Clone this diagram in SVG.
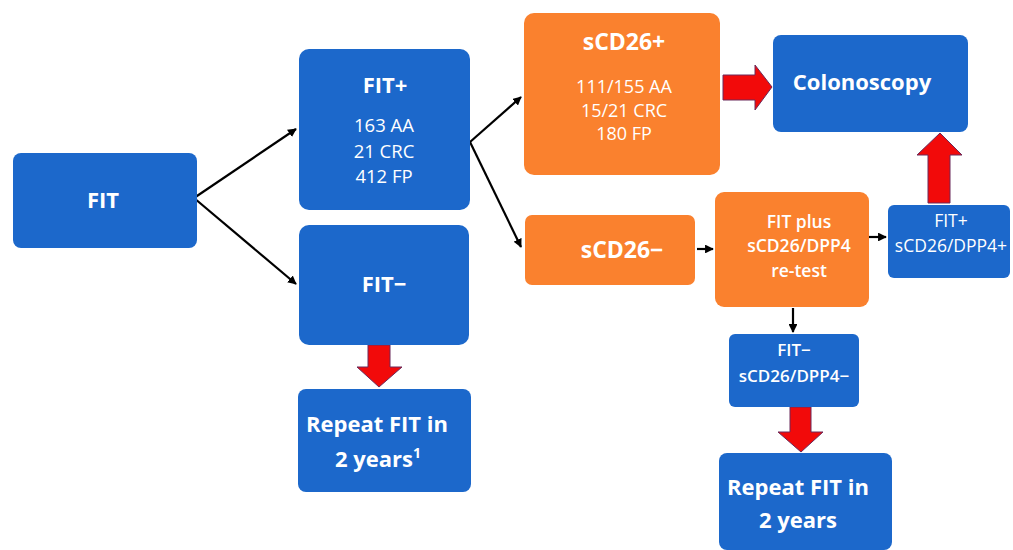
<svg xmlns="http://www.w3.org/2000/svg" width="1013" height="550" viewBox="0 0 1013 550">
<defs>
<style>
.blue{fill:#1c68cb}
.orange{fill:#fa812e}
.t{font-family:"Open Sans","Liberation Sans",sans-serif;fill:#fff;text-anchor:middle}
.b{font-weight:bold}
.s{font-weight:600}
.red{fill:#f20a0a;stroke:#6a2a5a;stroke-width:1}
.conn{stroke:#000;stroke-width:2.2;fill:none;marker-end:url(#ah)}
</style>
<marker id="ah" viewBox="0 0 10 10" refX="9" refY="5" markerWidth="4" markerHeight="4" orient="auto" markerUnits="strokeWidth">
<path d="M0,0 L10,5 L0,10 z" fill="#000"/>
</marker>
</defs>
<rect width="1013" height="550" fill="#fff"/>
<g id="connectors">
<path class="conn" d="M194,198 L296,129"/>
<path class="conn" d="M194,198 L296,284"/>
<path class="conn" d="M470,142 L521,97"/>
<path class="conn" d="M470,142 L521,247"/>
<path class="conn" d="M697,249 L713,249"/>
<path class="conn" d="M869,237 L886,237"/>
<path class="conn" d="M793,308 L793,332"/>
<polygon class="red" points="368,345 390,345 390,367 402,367 379,387 357,367 368,367"/>
<polygon class="red" points="723,75 755,75 755,65 772,87 755,110 755,100 723,100"/>
<polygon class="red" points="928,203 950,203 950,155 962,155 940,133 917,155 928,155"/>
<polygon class="red" points="790,407 811,407 811,432 823,432 801,452 778,432 790,432"/>
</g>
<g id="n-fit">
<rect class="blue" x="13" y="153" width="184" height="95" rx="8"/>
<text class="t b" x="103" y="208" font-size="22">FIT</text>
</g>
<g id="n-fitpos">
<rect class="blue" x="299" y="49" width="171" height="161" rx="10"/>
<text class="t b" x="385" y="93" font-size="22">FIT+</text>
<text class="t" x="384" y="132" font-size="18.5">163 AA</text>
<text class="t" x="384" y="158" font-size="18.5">21 CRC</text>
<text class="t" x="384" y="183" font-size="18.5">412 FP</text>
</g>
<g id="n-fitneg">
<rect class="blue" x="299" y="225" width="170" height="120" rx="10"/>
<text class="t b" x="384" y="292" font-size="22">FIT−</text>
</g>
<g id="n-repeat1">
<rect class="blue" x="298" y="389" width="173" height="103" rx="8"/>
<text class="t b" x="377" y="432" font-size="22">Repeat FIT in</text>
<text class="t b" x="378" y="467" font-size="22">2 years<tspan font-size="14" dy="-9">1</tspan></text>
</g>
<g id="n-scdpos">
<rect class="orange" x="524" y="13" width="196" height="162" rx="10"/>
<text class="t b" x="624" y="50" font-size="23">sCD26+</text>
<text class="t" x="624" y="93" font-size="18">111/155 AA</text>
<text class="t" x="624" y="117" font-size="18">15/21 CRC</text>
<text class="t" x="624" y="140" font-size="18">180 FP</text>
</g>
<g id="n-colon">
<rect class="blue" x="773" y="35" width="195" height="97" rx="8"/>
<text class="t b" x="862" y="90" font-size="22">Colonoscopy</text>
</g>
<g id="n-scdneg">
<rect class="orange" x="525" y="215" width="170" height="70" rx="7"/>
<text class="t b" x="622" y="258" font-size="23">sCD26−</text>
</g>
<g id="n-retest">
<rect class="orange" x="715" y="192" width="154" height="115" rx="9"/>
<text class="t s" x="799" y="228" font-size="17.5">FIT plus</text>
<text class="t s" x="799" y="252" font-size="17.5">sCD26/DPP4</text>
<text class="t s" x="799" y="277" font-size="17.5">re-test</text>
</g>
<g id="n-bothpos">
<rect class="blue" x="888" y="205" width="122" height="73" rx="6"/>
<text class="t" x="951" y="227" font-size="17.5">FIT+</text>
<text class="t" x="951" y="252" font-size="17.5">sCD26/DPP4+</text>
</g>
<g id="n-bothneg">
<rect class="blue" x="729" y="334" width="130" height="73" rx="6"/>
<text class="t s" x="794" y="356" font-size="17">FIT−</text>
<text class="t s" x="794" y="382" font-size="17">sCD26/DPP4−</text>
</g>
<g id="n-repeat2">
<rect class="blue" x="719" y="453" width="173" height="97" rx="8"/>
<text class="t b" x="798" y="495" font-size="22">Repeat FIT in</text>
<text class="t b" x="798" y="528" font-size="22">2 years</text>
</g>
</svg>
